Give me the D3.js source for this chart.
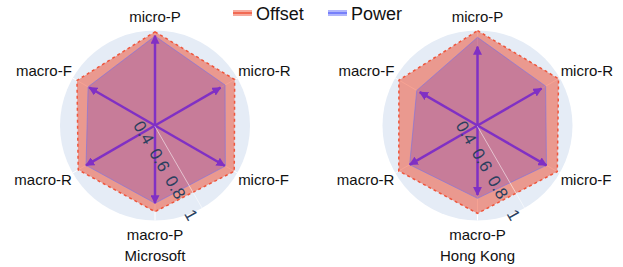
<!DOCTYPE html>
<html>
<head>
<meta charset="utf-8">
<script src="https://cdn.jsdelivr.net/npm/d3@7"></script>
<style>
  body { margin: 0; background: #fff; }
  svg { display: block; font-family: "Liberation Sans", Arial, sans-serif; }
</style>
</head>
<body>
<div id="chart"></div>
<script>
const categories = ['micro-P', 'micro-R', 'micro-F', 'macro-P', 'macro-R', 'macro-F'];
const radialTicks = [0.4, 0.6, 0.8, 1];
const seriesNames = ['Offset', 'Power'];
const panelTitles = ['Microsoft', 'Hong Kong'];

// Microsoft
const msOffset = [0.992, 0.981, 0.978, 0.944, 0.960, 0.969];
const msPower  = [0.965, 0.911, 0.913, 0.891, 0.903, 0.888];
const msArrow  = [0.968, 0.878, 0.908, 0.891, 0.903, 0.880];

// Hong Kong
const hkOffset = [0.999, 0.991, 0.982, 0.955, 0.974, 0.973];
const hkPower  = [0.957, 0.897, 0.903, 0.860, 0.895, 0.843];
const hkArrow  = [0.898, 0.867, 0.903, 0.839, 0.894, 0.821];

const width = 623, height = 267;
const R = 95;
const centers = [155, 477.5];
const cy = 125.5;

const offsetColor = '#ef553b';
const powerColor = '#636efa';
const arrowColor = '#8030c4';

const panels = [
  { title: panelTitles[0], offset: msOffset, power: msPower, arrow: msArrow, cx: centers[0] },
  { title: panelTitles[1], offset: hkOffset, power: hkPower, arrow: hkArrow, cx: centers[1] }
];

const svg = d3.select('#chart')
  .append('svg')
  .attr('width', width)
  .attr('height', height);

svg.append('defs').append('marker')
  .attr('id', 'arrowhead')
  .attr('viewBox', '0 0 10 10')
  .attr('refX', 9)
  .attr('refY', 5)
  .attr('markerUnits', 'userSpaceOnUse')
  .attr('markerWidth', 9)
  .attr('markerHeight', 9)
  .attr('orient', 'auto')
  .append('path')
  .attr('d', 'M0,0 L10,5 L0,10 z')
  .attr('fill', arrowColor);

const rScale = d3.scaleLinear().domain([0.4, 1]).range([0, R]);
const aScale = d3.scaleLinear().domain([0, categories.length]).range([0, 2 * Math.PI]);

const radialLine = d3.lineRadial()
  .angle((d, i) => aScale(i))
  .radius(d => rScale(d))
  .curve(d3.curveLinearClosed);

panels.forEach(p => {
  const g = svg.append('g').attr('transform', `translate(${p.cx},${cy})`);

  // background disc
  g.append('circle').attr('r', R).attr('fill', '#e5ecf6');

  // angular grid spokes
  g.selectAll('.spoke')
    .data(categories)
    .join('line')
    .attr('class', 'spoke')
    .attr('x2', (d, i) => R * Math.sin(aScale(i)))
    .attr('y2', (d, i) => -R * Math.cos(aScale(i)))
    .attr('stroke', '#fff')
    .attr('stroke-width', 1);

  // Offset trace
  g.append('path')
    .datum(p.offset)
    .attr('d', radialLine)
    .attr('fill', 'rgba(239,85,59,0.55)')
    .attr('stroke', offsetColor)
    .attr('stroke-width', 1.5)
    .attr('stroke-dasharray', '3,3');

  // Power trace
  g.append('path')
    .datum(p.power)
    .attr('d', radialLine)
    .attr('fill', 'rgba(120,60,180,0.3)')
    .attr('stroke', 'rgba(99,110,250,0.5)')
    .attr('stroke-width', 1);

  // arrows from the centre
  g.selectAll('.arrow')
    .data(p.arrow)
    .join('line')
    .attr('class', 'arrow')
    .attr('x2', (d, i) => rScale(d) * Math.sin(aScale(i)))
    .attr('y2', (d, i) => -rScale(d) * Math.cos(aScale(i)))
    .attr('stroke', arrowColor)
    .attr('stroke-width', 2.5)
    .attr('marker-end', 'url(#arrowhead)');

  // radial axis along -60 degrees
  const axis = g.append('g')
    .attr('transform', 'rotate(60)')
    .call(d3.axisBottom(rScale)
      .tickValues(radialTicks)
      .tickFormat(d3.format('~g'))
      .tickSize(0)
      .tickSizeOuter(0)
      .tickPadding(7));
  axis.select('.domain').attr('stroke', 'rgba(255,255,255,0.6)').attr('stroke-width', 0.8);
  axis.selectAll('text')
    .attr('fill', '#2a3f5f')
    .style('font-size', '17px');

  // angular labels
  g.selectAll('.alabel')
    .data(categories)
    .join('text')
    .attr('class', 'alabel')
    .attr('x', (d, i) => 96 * Math.sin(aScale(i)))
    .attr('y', (d, i) => -109 * Math.cos(aScale(i)))
    .attr('dy', '0.35em')
    .attr('text-anchor', (d, i) => {
      const s = Math.sin(aScale(i));
      return s > 0.1 ? 'start' : s < -0.1 ? 'end' : 'middle';
    })
    .attr('fill', '#111')
    .style('font-size', '15px')
    .text(d => d);

  // subplot title
  svg.append('text')
    .attr('x', p.cx)
    .attr('y', 261)
    .attr('text-anchor', 'middle')
    .attr('fill', '#111')
    .style('font-size', '15px')
    .text(p.title);
});

// legend
const legendX = [233, 328];
const legendColors = [offsetColor, powerColor];
const legendFills = ['rgba(239,85,59,0.5)', 'rgba(99,110,250,0.5)'];
const legend = svg.append('g');
seriesNames.forEach((name, i) => {
  const item = legend.append('g').attr('transform', `translate(${legendX[i]},13)`);
  item.append('line')
    .attr('x2', 19)
    .attr('stroke', legendFills[i])
    .attr('stroke-width', 6);
  item.append('line')
    .attr('x2', 19)
    .attr('stroke', legendColors[i])
    .attr('stroke-width', 1.5);
  item.append('text')
    .attr('x', 23)
    .attr('y', 7)
    .attr('fill', '#111')
    .style('font-size', '18px')
    .text(name);
});
</script>
</body>
</html>
